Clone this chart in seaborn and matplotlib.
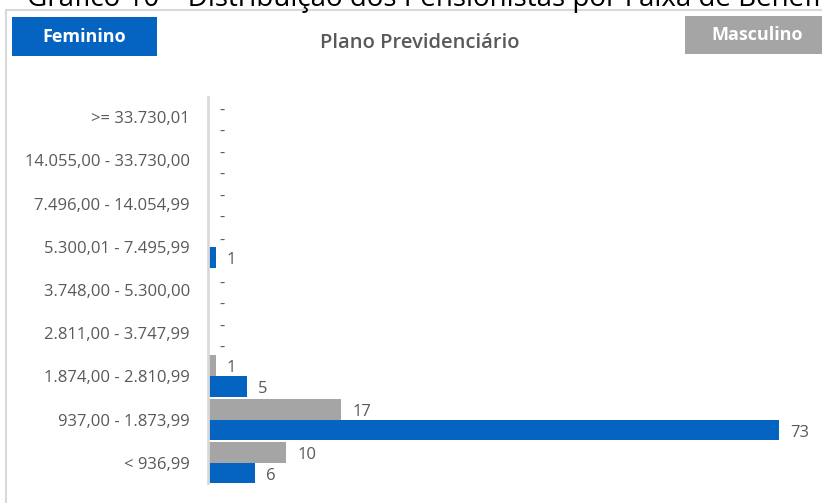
import matplotlib
matplotlib.use("Agg")
import matplotlib.pyplot as plt
import seaborn as sns
import pandas as pd
from matplotlib.lines import Line2D
from matplotlib.patches import Rectangle

faixas = [">= 33.730,01", "14.055,00 - 33.730,00", "7.496,00 - 14.054,99",
          "5.300,01 - 7.495,99", "3.748,00 - 5.300,00", "2.811,00 - 3.747,99",
          "1.874,00 - 2.810,99", "937,00 - 1.873,99", "< 936,99"]
masculino = [0, 0, 0, 0, 0, 0, 1, 17, 10]
feminino = [0, 0, 0, 1, 0, 0, 5, 73, 6]

BLUE = "#0563C1"
GRAY = "#A5A5A5"
TXT = "#595959"

df = pd.DataFrame({
    "faixa": faixas * 2,
    "sexo": ["Masculino"] * len(faixas) + ["Feminino"] * len(faixas),
    "valor": masculino + feminino,
})

sns.set_theme(style="white")
plt.rcParams["font.family"] = ["Open Sans", "DejaVu Sans"]

fig = plt.figure(figsize=(8.22, 5.03), dpi=100)
ax = fig.add_axes([208 / 822, 1 - 483 / 503, (800 - 208) / 822, 386 / 503])

sns.barplot(data=df, y="faixa", x="valor", hue="sexo", order=faixas,
            hue_order=["Masculino", "Feminino"],
            palette={"Masculino": GRAY, "Feminino": BLUE},
            orient="h", width=0.97, gap=0, ax=ax, legend=False,
            saturation=1, edgecolor="none", linewidth=0)

for cont, vals in zip(ax.containers, [masculino, feminino]):
    labs = ["-" if v == 0 else str(v) for v in vals]
    texts = ax.bar_label(cont, labels=labs, padding=8, fontsize=12, color=TXT)
    for t, v in zip(texts, vals):
        dy_px = -4 if v == 0 else -2.5
        x0, y0 = t.xyann
        t.xyann = (x0, y0 + dy_px * 72 / 100)

ax.set_xlim(0, (800 - 208) / 7.82)
ax.set_ylim(8.47, -0.47)
ax.set_xlabel("")
ax.set_ylabel("")
ax.set_xticks([])
ax.tick_params(axis="y", length=0, pad=13, labelsize=12, labelcolor=TXT)
for s in ["top", "right", "bottom"]:
    ax.spines[s].set_visible(False)
ax.spines["left"].set_color("#D9D9D9")
ax.spines["left"].set_linewidth(2)

# frame
fig.add_artist(Line2D([6 / 822, 1], [1 - 10 / 503, 1 - 10 / 503], color="#D9D9D9", lw=1.5))
fig.add_artist(Line2D([6 / 822, 6 / 822], [0, 1 - 10 / 503], color="#D9D9D9", lw=1.5))

# cut-off title at the very top (as in the reference)
fig.text(27 / 822, 1 - 6 / 503,
         "Gráfico 10 – Distribuição dos Pensionistas por Faixa de Benefício",
         fontsize=20, color="#000000", va="baseline", ha="left")

# legend boxes
fig.add_artist(Rectangle((12 / 822, 1 - 56 / 503), 145 / 822, 39 / 503,
                         transform=fig.transFigure, color=BLUE, lw=0))
fig.text(84 / 822, 1 - 37 / 503, "Feminino", color="white", fontsize=13,
         fontweight="bold", ha="center", va="center")
fig.add_artist(Rectangle((685 / 822, 1 - 54 / 503), 140 / 822, 38 / 503,
                         transform=fig.transFigure, color=GRAY, lw=0))
fig.text(757 / 822, 1 - 35 / 503, "Masculino", color="white", fontsize=13,
         fontweight="bold", ha="center", va="center")

fig.text(420 / 822, 1 - 43 / 503, "Plano Previdenciário", color=TXT,
         fontsize=14.5, fontweight="semibold", ha="center", va="center")

fig.savefig("out.png", dpi=100)
